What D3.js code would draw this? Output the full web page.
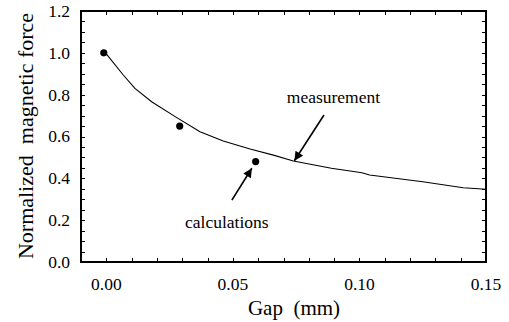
<!doctype html>
<html lang="en">
<head>
<meta charset="UTF-8">
<title>Normalized magnetic force vs gap</title>
<script src="https://cdn.jsdelivr.net/npm/d3@7"></script>
<style>
  body { margin: 0; background: #fff; }
  svg text { font-family: "Liberation Serif", "Times New Roman", serif; fill: #000; }
</style>
</head>
<body>
<script>
// measured curve (gap in mm, normalized force)
var measGap   = [0.000, 0.0067, 0.0113, 0.0179, 0.0272, 0.0370, 0.0462, 0.0568, 0.0660, 0.0739, 0.0889, 0.1010, 0.1040, 0.1250, 0.1410, 0.1500];
var measForce = [0.995, 0.894, 0.830, 0.766, 0.695, 0.623, 0.578, 0.540, 0.511, 0.483, 0.448, 0.427, 0.416, 0.384, 0.355, 0.348];
// calculated points
var calcGap   = [-0.001, 0.029, 0.059];
var calcForce = [1.00, 0.65, 0.48];
var xTickLabels = [0.00, 0.05, 0.10, 0.15];
var yTickLabels = [0.0, 0.2, 0.4, 0.6, 0.8, 1.0, 1.2];

var w = 509, h = 322;
var pLeft = 81, pRight = 486, pTop = 11, pBottom = 262;

var svg = d3.select('body').append('svg')
  .attr('width', w).attr('height', h);

var x = d3.scaleLinear().domain([-0.01, 0.15]).range([pLeft, pRight]);
var y = d3.scaleLinear().domain([0, 1.2]).range([pBottom, pTop]);

var xMinor = d3.range(0, 0.1451, 0.01);
var yMinor = d3.range(0.05, 1.151, 0.05);

// inward ticks on all four sides
function tickAxis(axis, t) {
  var g = svg.append('g').attr('transform', t).call(axis);
  g.select('.domain').remove();
  g.selectAll('text').remove();
  g.selectAll('line').attr('stroke', '#000').attr('shape-rendering', 'crispEdges');
}
tickAxis(d3.axisBottom(x).tickValues(xMinor).tickSize(-4), 'translate(0,' + pBottom + ')');
tickAxis(d3.axisTop(x).tickValues(xMinor).tickSize(-4), 'translate(0,' + pTop + ')');
tickAxis(d3.axisLeft(y).tickValues(yMinor).tickSize(-4), 'translate(' + pLeft + ',0)');
tickAxis(d3.axisRight(y).tickValues(yMinor).tickSize(-4), 'translate(' + pRight + ',0)');

svg.append('rect')
  .attr('x', pLeft).attr('y', pTop)
  .attr('width', pRight - pLeft).attr('height', pBottom - pTop)
  .attr('fill', 'none').attr('stroke', '#000').attr('stroke-width', 1.2)
  .attr('shape-rendering', 'crispEdges');

// tick labels
svg.selectAll('text.xl').data(xTickLabels).enter().append('text')
  .attr('class', 'xl')
  .attr('x', function(d){ return x(d); })
  .attr('y', pBottom + 28)
  .attr('text-anchor', 'middle')
  .attr('font-size', '17.5px')
  .text(function(d){ return d3.format('.2f')(d); });

svg.selectAll('text.yl').data(yTickLabels).enter().append('text')
  .attr('class', 'yl')
  .attr('x', 70)
  .attr('y', function(d){ return y(d); })
  .attr('dy', '0.34em')
  .attr('text-anchor', 'end')
  .attr('font-size', '17.5px')
  .text(function(d){ return d3.format('.1f')(d); });

// axis titles
svg.append('text')
  .attr('x', 294).attr('y', 315)
  .attr('text-anchor', 'middle')
  .attr('font-size', '21px')
  .style('white-space', 'pre')
  .text('Gap  (mm)');

svg.append('text')
  .attr('transform', 'translate(33,136) rotate(-90)')
  .attr('text-anchor', 'middle')
  .attr('font-size', '22px')
  .style('white-space', 'pre')
  .text('Normalized  magnetic force');

// measurement curve
var line = d3.line()
  .x(function(d){ return x(d[0]); })
  .y(function(d){ return y(d[1]); });
svg.append('path')
  .datum(d3.zip(measGap, measForce))
  .attr('d', line)
  .attr('fill', 'none').attr('stroke', '#000').attr('stroke-width', 1.1);

// calculation points
svg.selectAll('circle').data(d3.zip(calcGap, calcForce)).enter().append('circle')
  .attr('cx', function(d){ return x(d[0]); })
  .attr('cy', function(d){ return y(d[1]); })
  .attr('r', 3.6)
  .attr('fill', '#000');

// annotations
svg.append('defs').append('marker')
  .attr('id', 'head')
  .attr('markerUnits', 'userSpaceOnUse')
  .attr('viewBox', '0 0 10 10')
  .attr('refX', 10).attr('refY', 5)
  .attr('markerWidth', 11).attr('markerHeight', 9)
  .attr('orient', 'auto')
  .append('path').attr('d', 'M0,0L10,5L0,10Z').attr('fill', '#000');

function arrow(x1, y1, x2, y2) {
  svg.append('line')
    .attr('x1', x(x1)).attr('y1', y(y1))
    .attr('x2', x(x2)).attr('y2', y(y2))
    .attr('stroke', '#000').attr('stroke-width', 1.6)
    .attr('marker-end', 'url(#head)');
}
arrow(0.0860, 0.703, 0.0743, 0.484);
arrow(0.0496, 0.296, 0.0575, 0.448);

svg.append('text')
  .attr('x', x(0.0713)).attr('y', y(0.760))
  .attr('font-size', '17.5px')
  .text('measurement');
svg.append('text')
  .attr('x', x(0.0311)).attr('y', y(0.161))
  .attr('font-size', '17.5px')
  .text('calculations');
</script>
</body>
</html>
